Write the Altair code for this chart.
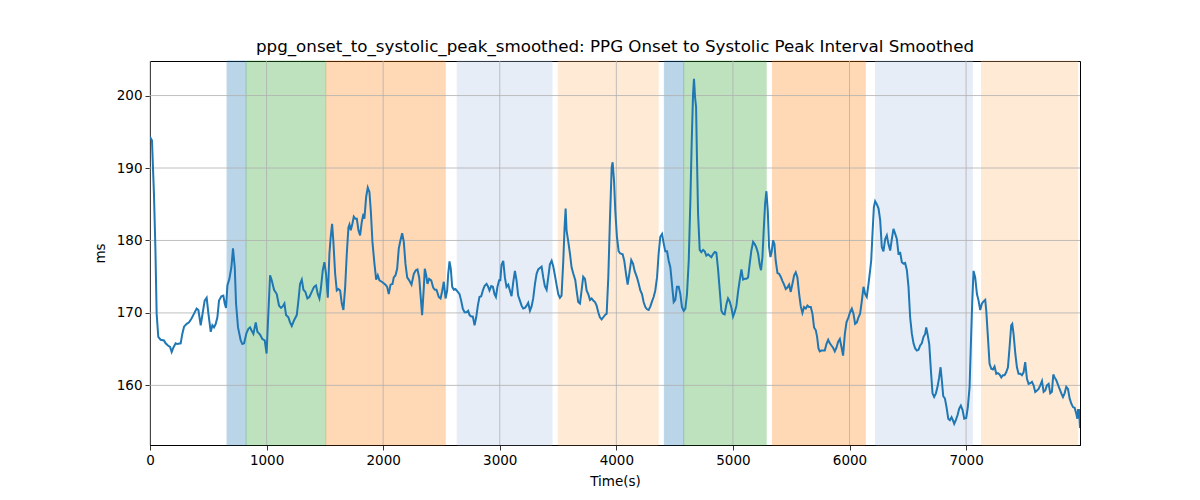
import altair as alt
import pandas as pd

# Time (s) and smoothed interval (ms)
t = [0, 17, 34, 46, 57, 71, 91, 120, 134, 154, 172, 186, 200, 220, 234, 263, 277, 292, 315, 335, 355, 378, 400, 415, 435, 455, 469, 486, 501, 521, 535, 549, 564, 578, 592, 612, 629, 641, 652, 664, 681, 698, 712, 727, 738, 755, 778, 792, 807, 827, 844, 858, 870, 887, 907, 921, 944, 964, 984, 1000,
     1015, 1030, 1044, 1064, 1087, 1107, 1124, 1138, 1153, 1167, 1187, 1201, 1216, 1236, 1259, 1273, 1287, 1302, 1316, 1333, 1350, 1367, 1387, 1407, 1424, 1439, 1453, 1465, 1482, 1496, 1510, 1525, 1539, 1550, 1562, 1573, 1588, 1602, 1616, 1631, 1645, 1659, 1674, 1688, 1702, 1711, 1722, 1736, 1748, 1762, 1774, 1788, 1802, 1816, 1831, 1839, 1854, 1868, 1882, 1894, 1908, 1925, 1940, 1954, 1968, 1988,
     2020, 2034, 2048, 2063, 2080, 2091, 2106, 2120, 2134, 2148, 2163, 2177, 2191, 2206, 2223, 2243, 2263, 2280, 2294, 2309, 2320, 2334, 2349, 2357, 2369, 2380, 2394, 2412, 2429, 2443, 2457, 2477, 2492, 2506, 2520, 2535, 2549, 2558, 2569, 2580, 2592, 2606, 2620, 2635, 2655, 2669, 2683, 2698, 2715, 2729, 2741, 2755, 2769, 2784, 2798, 2812, 2826, 2841, 2855, 2869, 2887, 2898, 2912, 2927, 2941, 2955, 2967,
     2980, 2995, 3005, 3015, 3030, 3044, 3058, 3073, 3087, 3101, 3116, 3130, 3144, 3158, 3173, 3187, 3201, 3216, 3230, 3244, 3259, 3273, 3287, 3302, 3316, 3330, 3344, 3359, 3373, 3387, 3402, 3416, 3430, 3445, 3459, 3473, 3487, 3502, 3516, 3530, 3545, 3556, 3565, 3573, 3588, 3602, 3616, 3631, 3648, 3659, 3673, 3688, 3702, 3716, 3731, 3745, 3759, 3774, 3788, 3802, 3817, 3831, 3845, 3859, 3874, 3888, 3902, 3917, 3931, 3945, 3960, 3968, 3980, 3991,
     4005, 4020, 4034, 4054, 4068, 4083, 4097, 4111, 4128, 4143, 4157, 4177, 4191, 4206, 4220, 4234, 4249, 4263, 4277, 4292, 4306, 4320, 4334, 4349, 4363, 4377, 4392, 4406, 4420, 4435, 4449, 4463, 4477, 4492, 4506, 4520, 4535, 4549, 4563, 4578, 4592, 4606, 4621, 4635, 4646, 4658, 4666, 4675, 4684, 4692, 4701, 4715, 4729, 4744, 4758, 4772, 4787, 4801, 4815, 4829, 4844, 4858, 4872, 4887, 4901, 4915, 4929, 4944, 4958, 4972, 4987,
     5001, 5015, 5030, 5044, 5058, 5073, 5087, 5101, 5116, 5130, 5144, 5158, 5173, 5187, 5201, 5216, 5230, 5241, 5253, 5264, 5276, 5287, 5299, 5310, 5322, 5333, 5344, 5356, 5367, 5382, 5396, 5410, 5425, 5439, 5453, 5467, 5482, 5496, 5510, 5525, 5539, 5553, 5568, 5582, 5596, 5610, 5625, 5639, 5653, 5668, 5682, 5696, 5711, 5722, 5734, 5745, 5759, 5774, 5788, 5802, 5817, 5831, 5845, 5859, 5874, 5888, 5902, 5917, 5931, 5945, 5960, 5974, 5991,
     6005, 6020, 6034, 6048, 6063, 6077, 6091, 6106, 6120, 6134, 6148, 6163, 6177, 6186, 6197, 6209, 6220, 6234, 6249, 6263, 6277, 6291, 6306, 6320, 6334, 6349, 6363, 6377, 6392, 6406, 6420, 6435, 6449, 6463, 6477, 6492, 6506, 6520, 6535, 6549, 6563, 6578, 6592, 6606, 6620, 6635, 6649, 6658, 6669, 6684, 6698, 6712, 6726, 6741, 6755, 6769, 6781, 6792, 6804, 6818, 6832, 6847, 6861, 6875, 6887, 6898, 6912, 6927, 6941, 6955, 6970, 6984,
     7001, 7015, 7030, 7041, 7053, 7064, 7078, 7093, 7107, 7121, 7136, 7150, 7164, 7173, 7187, 7201, 7216, 7230, 7244, 7259, 7273, 7287, 7302, 7316, 7330, 7344, 7359, 7373, 7387, 7396, 7407, 7422, 7436, 7450, 7465, 7479, 7493, 7507, 7522, 7536, 7550, 7565, 7579, 7593, 7608, 7622, 7636, 7651, 7665, 7679, 7693, 7708, 7722, 7736, 7748, 7759, 7774, 7788, 7802, 7817, 7831, 7845, 7859, 7874, 7888, 7902, 7917, 7931, 7945, 7954, 7960, 7968, 7977]

ms = [194.3, 193.8, 186.4, 179.1, 169.9, 166.7, 166.3, 166.2, 165.8, 165.5, 165.3, 164.6, 165.2, 165.8, 165.7, 165.8, 167.1, 168.1, 168.5, 168.7, 169.2, 169.9, 170.6, 170.4, 168.3, 170.3, 171.7, 172.1, 169.9, 167.4, 168.3, 168.0, 168.5, 169.4, 171.7, 172.3, 172.4, 171.3, 170.7, 173.8, 174.7, 176.3, 178.9, 176.3, 171.3, 168.0, 166.2, 165.7, 165.8, 167.2, 167.8, 168.0, 167.6, 167.1, 168.7, 167.4, 167.0, 166.4, 166.2, 164.4,
      169.9, 175.2, 174.5, 173.2, 172.6, 171.0, 170.7, 170.9, 171.3, 169.7, 169.4, 168.7, 168.2, 169.0, 169.7, 171.7, 174.0, 174.6, 173.2, 172.9, 172.0, 172.2, 172.9, 173.6, 173.8, 172.6, 172.0, 173.3, 175.9, 177.0, 175.4, 172.1, 178.2, 180.5, 182.3, 179.8, 175.4, 173.1, 173.3, 173.1, 171.3, 170.4, 173.6, 178.2, 181.8, 182.2, 181.4, 182.3, 183.3, 183.0, 183.0, 181.4, 180.7, 182.5, 183.7, 183.0, 186.0, 187.3, 186.7, 184.1, 179.8, 176.8, 174.6, 175.2, 174.5, 174.3,
      173.9, 173.6, 172.6, 173.9, 174.0, 174.9, 175.2, 176.1, 178.9, 180.0, 181.0, 179.8, 176.8, 174.9, 174.5, 173.9, 175.4, 175.9, 176.0, 174.9, 172.6, 169.7, 173.6, 176.1, 175.2, 174.0, 174.7, 174.5, 173.5, 173.2, 173.2, 172.2, 172.0, 173.0, 174.3, 172.0, 173.1, 175.4, 177.1, 176.1, 173.6, 173.2, 173.3, 173.0, 172.6, 171.7, 170.6, 170.1, 170.1, 170.3, 169.7, 169.5, 169.5, 168.3, 169.4, 171.0, 172.2, 172.3, 173.1, 173.7, 174.0, 173.7, 173.1, 173.7, 173.6, 172.6, 172.2,
      173.6, 174.5, 174.5, 176.6, 177.2, 174.9, 173.6, 173.9, 173.1, 172.3, 174.3, 175.8, 174.5, 172.4, 171.7, 171.0, 170.6, 170.7, 171.0, 171.4, 170.3, 170.9, 172.0, 174.0, 175.4, 176.0, 176.2, 176.4, 174.9, 173.7, 173.2, 174.9, 176.7, 177.2, 176.4, 175.2, 173.9, 172.6, 172.1, 172.4, 177.2, 181.8, 184.4, 181.4, 179.8, 178.2, 176.3, 175.4, 174.5, 173.1, 171.5, 171.3, 173.1, 175.0, 174.7, 173.1, 172.6, 171.8, 172.0, 171.7, 171.5, 171.0, 170.1, 169.4, 169.1, 169.4, 169.7, 169.9, 174.9, 182.8, 190.1, 190.8, 188.3, 184.1,
      180.5, 178.5, 178.2, 178.1, 177.2, 175.4, 173.9, 175.4, 177.3, 176.8, 175.8, 174.9, 174.1, 173.1, 172.6, 171.5, 170.8, 170.5, 170.4, 170.9, 171.6, 172.2, 173.1, 174.9, 178.2, 180.5, 180.9, 179.6, 178.5, 178.5, 177.2, 176.3, 174.0, 171.5, 171.8, 173.6, 173.6, 172.6, 170.8, 170.3, 170.6, 172.6, 177.2, 185.5, 193.3, 200.2, 202.3, 199.8, 198.4, 191.0, 183.7, 178.7, 178.4, 178.7, 178.5, 177.9, 178.1, 177.9, 177.7, 178.1, 178.4, 178.3, 176.1, 173.1, 170.3, 169.9, 169.8, 171.2, 172.0, 171.6, 170.7,
      169.5, 170.1, 171.0, 172.9, 174.5, 176.0, 174.6, 174.7, 174.7, 174.9, 176.8, 178.6, 179.8, 179.5, 179.0, 178.2, 176.6, 175.9, 177.7, 181.4, 185.1, 186.8, 184.1, 179.1, 177.7, 178.5, 180.0, 179.5, 177.2, 175.5, 175.4, 175.0, 174.4, 173.9, 173.3, 173.5, 173.9, 172.9, 174.0, 175.2, 175.6, 174.9, 172.6, 170.9, 170.0, 170.8, 170.6, 171.0, 170.8, 170.8, 169.9, 168.0, 167.6, 166.7, 165.1, 164.7, 164.8, 164.8, 164.8, 165.7, 166.3, 165.8, 165.5, 165.2, 164.7, 165.2, 166.0, 166.4, 165.3, 164.1, 167.1, 168.7, 169.4,
      170.1, 170.6, 169.9, 168.5, 168.7, 169.4, 169.9, 171.7, 173.6, 172.6, 172.2, 174.0, 175.9, 177.2, 180.9, 184.6, 185.4, 185.0, 184.4, 182.8, 179.1, 178.5, 180.2, 180.7, 179.5, 178.6, 180.2, 181.6, 180.9, 180.2, 178.2, 178.3, 177.0, 176.8, 176.9, 175.9, 173.6, 169.4, 167.1, 165.8, 165.1, 164.8, 164.9, 165.5, 165.8, 166.7, 167.1, 168.0, 167.1, 165.7, 162.1, 158.9, 158.4, 158.9, 159.8, 161.1, 162.5, 160.7, 158.5, 158.2, 157.0, 155.4, 155.2, 155.6, 155.2, 154.7, 155.2, 155.9, 156.8, 157.2, 156.6, 155.4,
      155.5, 157.0, 159.8, 165.7, 171.7, 175.8, 174.9, 172.6, 171.7, 170.4, 171.3, 171.6, 171.8, 170.3, 166.7, 163.0, 162.3, 162.2, 162.6, 161.6, 161.7, 161.5, 161.1, 161.4, 161.4, 161.8, 162.5, 165.3, 168.3, 168.5, 167.1, 164.4, 162.5, 161.6, 161.6, 161.4, 161.8, 163.2, 160.9, 160.2, 160.3, 160.5, 160.0, 159.1, 159.3, 159.5, 160.0, 160.6, 159.1, 159.3, 160.0, 160.2, 158.9, 159.1, 161.5, 161.1, 160.7, 160.1, 159.5, 158.9, 158.4, 158.9, 159.8, 159.5, 158.2, 157.5, 157.0, 156.9, 156.1, 155.4, 156.6, 156.6, 154.1]

# Shaded phases
band_start = [661, 824, 1508, 2635, 3502, 4412, 4578, 5339, 6223, 7133]
band_end = [824, 1508, 2532, 3448, 4358, 4578, 5285, 6135, 7053, 7957]
band_kind = ["a", "b", "c", "d", "e", "a", "b", "c", "d", "e"]
kind_names = ["a", "b", "c", "d", "e"]
kind_colors = ["#1f77b4", "#2ca02c", "#ff7f0e", "#aec7e8", "#ffbb78"]

x_ticks = [0, 1000, 2000, 3000, 4000, 5000, 6000, 7000]
y_ticks = [160, 170, 180, 190, 200]

line_df = pd.DataFrame({"t": t, "ms": ms})
band_df = pd.DataFrame({"start": band_start, "end": band_end, "kind": band_kind})
xgrid_df = pd.DataFrame({"v": x_ticks})
ygrid_df = pd.DataFrame({"v": y_ticks})

xscale = alt.Scale(domain=[0, 7977], nice=False, zero=False)
yscale = alt.Scale(domain=[151.77, 204.77], nice=False, zero=False)
cscale = alt.Scale(domain=kind_names, range=kind_colors)

bands = alt.Chart(band_df).mark_rect(opacity=0.3, strokeWidth=1).encode(
    x=alt.X("start:Q", scale=xscale,
            axis=alt.Axis(values=x_ticks, title="Time(s)", format="d")),
    x2="end:Q",
    y=alt.value(0),
    y2=alt.value(384),
    color=alt.Color("kind:N", scale=cscale, legend=None),
    stroke=alt.Stroke("kind:N", scale=cscale, legend=None),
)

# grid drawn above the shaded phases and below the line, as in matplotlib
xgrid = alt.Chart(xgrid_df).mark_rule(color="#b0b0b0", strokeWidth=0.8).encode(
    x=alt.X("v:Q", scale=xscale),
    y=alt.value(0), y2=alt.value(384),
)
ygrid = alt.Chart(ygrid_df).mark_rule(color="#b0b0b0", strokeWidth=0.8).encode(
    y=alt.Y("v:Q", scale=yscale),
    x=alt.value(0), x2=alt.value(930),
)

line = alt.Chart(line_df).mark_line(color="#1f77b4", strokeWidth=2, clip=True).encode(
    x=alt.X("t:Q", scale=xscale),
    y=alt.Y("ms:Q", scale=yscale,
            axis=alt.Axis(values=y_ticks, title="ms", format="d")),
)

chart = alt.layer(bands, xgrid, ygrid, line).properties(
    width=930,
    height=384,
    title=alt.TitleParams(
        "ppg_onset_to_systolic_peak_smoothed: PPG Onset to Systolic Peak Interval Smoothed",
        anchor="middle", fontSize=16.7, font="DejaVu Sans", fontWeight="normal",
        color="black", offset=-8, baseline="alphabetic"),
    autosize=alt.AutoSizeParams(type="none"),
    padding={"left": 142, "top": 53, "right": 112, "bottom": 47},
).configure_view(
    stroke="black", strokeWidth=1
).configure_axis(
    grid=False,
    domainColor="black", domainWidth=1,
    tickColor="black", tickSize=5, tickWidth=0.8,
    labelFont="DejaVu Sans", labelFontSize=13.5, labelColor="black", labelPadding=3,
    labelFlush=False,
    titleFont="DejaVu Sans", titleFontSize=13.5, titleFontWeight="normal", titleColor="black",
).configure_axisX(
    titlePadding=8
).configure_axisY(
    titlePadding=9
)

chart.save("out.html", embed_options={"renderer": "svg", "actions": False})
